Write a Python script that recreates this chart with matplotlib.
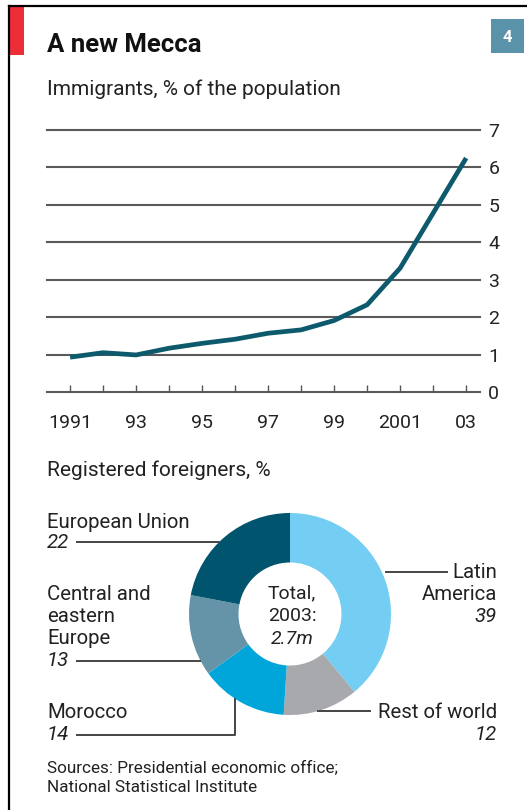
import matplotlib
matplotlib.use("Agg")
import matplotlib.pyplot as plt
from matplotlib.patches import Rectangle
from matplotlib.lines import Line2D

plt.rcParams['font.family'] = ['Roboto', 'DejaVu Sans']

# ---- data ----
years = [1991, 1992, 1993, 1994, 1995, 1996, 1997, 1998, 1999, 2000, 2001, 2002, 2003]
immigrants_pct = [0.93, 1.05, 0.99, 1.17, 1.30, 1.41, 1.57, 1.66, 1.91, 2.33, 3.31, 4.78, 6.25]
xtick_years = [1991, 1993, 1995, 1997, 1999, 2001, 2003]
xtick_labels = ["1991", "93", "95", "97", "99", "2001", "03"]
yticks = [0, 1, 2, 3, 4, 5, 6, 7]

regions = ["Latin America", "Rest of world", "Morocco", "Central and eastern Europe", "European Union"]
shares = [39, 12, 14, 13, 22]
region_colors = ["#74CDF2", "#A7A9AC", "#00A6DA", "#6594A9", "#00546D"]

W, H = 527, 810
fig = plt.figure(figsize=(W / 100, H / 100), dpi=100)
fig.patch.set_facecolor("white")

def fx(x):
    return x / W

def fy(y):
    return 1 - y / H

TXT = "#222222"
FS = 14.7

# overlay axes in pixel coordinates
ov = fig.add_axes([0, 0, 1, 1])
ov.set_xlim(0, W)
ov.set_ylim(H, 0)
ov.axis("off")
ov.set_zorder(5)
ov.patch.set_alpha(0)

# frame lines and decorations
ov.add_line(Line2D([9, W], [6, 6], color="black", lw=1.6))
ov.add_line(Line2D([9, 9], [6, H], color="black", lw=1.6))
ov.add_patch(Rectangle((9.8, 6.8), 14.5, 48, color="#EE2E36", lw=0))
ov.add_patch(Rectangle((491, 19), 33, 34, color="#5A93A9", lw=0))
ov.text(507.5, 37, "4", color="white", fontsize=12, fontweight="bold", ha="center", va="center")

ov.text(47, 45, "A new Mecca", fontsize=18.5, fontweight="bold", ha="left", va="center", color="#111111")
ov.text(47, 89, "Immigrants, % of the population", fontsize=15, ha="left", va="center", color=TXT)

# ---- line chart ----
ax = fig.add_axes([fx(47), fy(392), fx(480) - fx(47), (392 - 130) / H])
ax.plot(years, immigrants_pct, color="#0E5A6D", lw=3.4, solid_capstyle="butt", zorder=3)
ax.set_xlim(1990.30, 2003.42)
ax.set_ylim(0, 7)
ax.set_yticks(yticks)
for v in yticks:
    ax.axhline(v, color="#5a5a5a", lw=1.5, zorder=1, clip_on=False)
for s in ax.spines.values():
    s.set_visible(False)
ax.yaxis.tick_right()
ax.tick_params(axis="y", length=0, pad=6, labelsize=14, labelcolor=TXT)
ax.set_xticks(years)
ax.set_xticklabels([xtick_labels[xtick_years.index(y)] if y in xtick_years else "" for y in years])
ax.tick_params(axis="x", direction="in", length=5, width=1, color="#555555", pad=16,
               labelsize=14, labelcolor=TXT)
ax.set_xticks([2000], minor=True)
ax.tick_params(axis="x", which="minor", direction="inout", length=14, width=1, color="#555555")
ax.patch.set_alpha(0)

ov.text(47, 470, "Registered foreigners, %", fontsize=15, ha="left", va="center", color=TXT)

# ---- donut ----
cx, cy, r = 290, 614, 101
pax = fig.add_axes([fx(cx - r), fy(cy + r), 2 * r / W, 2 * r / H])
pax.pie(shares, colors=region_colors, startangle=90, counterclock=False,
        wedgeprops=dict(width=0.49, linewidth=0))
pax.set_xlim(-1, 1)
pax.set_ylim(-1, 1)
pax.axis("off")

ov.text(292, 593, "Total,", fontsize=14, ha="center", va="center", color=TXT)
ov.text(292, 616, "2003:", fontsize=14, ha="center", va="center", color=TXT)
ov.text(292, 639, "2.7m", fontsize=14, ha="center", va="center", color=TXT, style="italic")

lc = "#444444"
lw = 1.4
# European Union
ov.text(47, 522, "European Union", fontsize=FS, ha="left", va="center", color=TXT)
ov.text(47, 543, f"{shares[4]}", fontsize=FS, ha="left", va="center", color=TXT, style="italic")
ov.add_line(Line2D([77, 219], [542, 542], color=lc, lw=lw))
# Central and eastern Europe
ov.text(47, 595, "Central and", fontsize=FS, ha="left", va="center", color=TXT)
ov.text(47, 617, "eastern", fontsize=FS, ha="left", va="center", color=TXT)
ov.text(47, 639, "Europe", fontsize=FS, ha="left", va="center", color=TXT)
ov.text(47, 661, f"{shares[3]}", fontsize=FS, ha="left", va="center", color=TXT, style="italic")
ov.add_line(Line2D([77, 200], [661, 661], color=lc, lw=lw))
# Morocco
ov.text(47, 713, "Morocco", fontsize=FS, ha="left", va="center", color=TXT)
ov.text(47, 735, f"{shares[2]}", fontsize=FS, ha="left", va="center", color=TXT, style="italic")
ov.add_line(Line2D([77, 235, 235], [735, 735, 699], color=lc, lw=lw))
# Latin America
ov.text(497, 573, "Latin", fontsize=FS, ha="right", va="center", color=TXT)
ov.text(497, 595, "America", fontsize=FS, ha="right", va="center", color=TXT)
ov.text(497, 617, f"{shares[0]}", fontsize=FS, ha="right", va="center", color=TXT, style="italic")
ov.add_line(Line2D([386, 447], [572, 572], color=lc, lw=lw))
# Rest of world
ov.text(497, 712, "Rest of world", fontsize=FS, ha="right", va="center", color=TXT)
ov.text(497, 735, f"{shares[1]}", fontsize=FS, ha="right", va="center", color=TXT, style="italic")
ov.add_line(Line2D([318, 370], [711, 711], color=lc, lw=lw))

ov.text(47, 768, "Sources: Presidential economic office;", fontsize=12.3, ha="left", va="center", color=TXT)
ov.text(47, 788, "National Statistical Institute", fontsize=12.3, ha="left", va="center", color=TXT)

fig.savefig("out.png", dpi=100, facecolor="white")
